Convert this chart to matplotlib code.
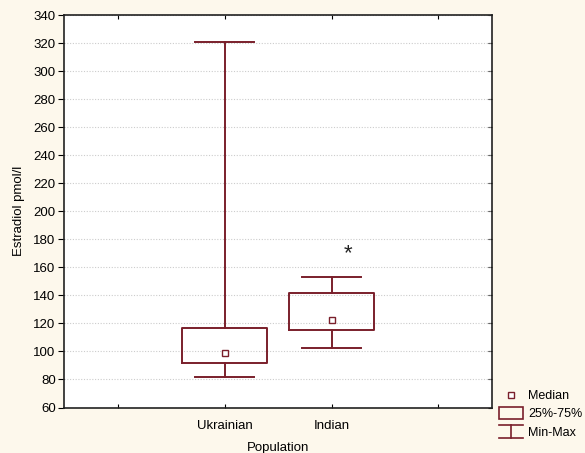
import matplotlib
matplotlib.use("Agg")
import matplotlib.pyplot as plt
from matplotlib.patches import Rectangle
from matplotlib.lines import Line2D
from matplotlib.legend_handler import HandlerBase

plt.rcParams['font.family'] = ['Liberation Sans', 'DejaVu Sans']

# ---- data ----
categories = ["Ukrainian", "Indian"]
medians = [99.0, 122.5]
q1 = [91.5, 115.5]
q3 = [116.5, 141.5]
mins = [81.5, 102.5]
maxs = [321.0, 153.0]
asterisk_value = 170.0
y_ticks = list(range(60, 341, 20))

BOX_COLOR = "#7a1f2b"
BG = "#fdf8ec"

fig = plt.figure(figsize=(5.85, 4.53), dpi=100, facecolor=BG)
ax = fig.add_axes([64 / 585, 1 - 407.5 / 453, 428 / 585, (407.5 - 15) / 453])
ax.set_facecolor("white")

positions = [1, 2]
stats = []
for i, c in enumerate(categories):
    stats.append(dict(label=c, med=medians[i], q1=q1[i], q3=q3[i],
                      whislo=mins[i], whishi=maxs[i], fliers=[]))

ax.bxp(stats, positions=positions, widths=0.8, capwidths=0.56,
       showfliers=False, patch_artist=False,
       boxprops=dict(color=BOX_COLOR, linewidth=1.4),
       whiskerprops=dict(color=BOX_COLOR, linewidth=1.4),
       capprops=dict(color=BOX_COLOR, linewidth=1.4),
       medianprops=dict(visible=False), zorder=3)
ax.plot(positions, medians, linestyle="none", marker="s", markersize=4.2,
        markerfacecolor="white", markeredgecolor=BOX_COLOR,
        markeredgewidth=1.0, zorder=4)

ax.text(2.15, asterisk_value, "*", ha="center", va="center", fontsize=16,
        color="#222222")

ax.set_xlim(-0.5, 3.5)
ax.set_ylim(60, 340)
ax.set_yticks(y_ticks)
ax.set_xticks([0, 1, 2, 3])
ax.set_xticklabels(["", categories[0], categories[1], ""])

ax.yaxis.grid(True, linestyle=(0, (1, 1.5)), color="#cccccc", linewidth=0.8)
ax.set_axisbelow(True)

ax.tick_params(axis="y", which="both", left=True, right=False, direction="out",
               length=4, labelsize=9.5, colors="black", pad=2)
ax.tick_params(axis="x", which="both", bottom=True, top=True, direction="in",
               length=3, labelsize=9.5, pad=9)
ax2 = ax.secondary_yaxis("right")
ax2.set_yticks(y_ticks)
ax2.tick_params(direction="in", length=3, labelright=False)
for sp in ax2.spines.values():
    sp.set_visible(False)

for sp in ax.spines.values():
    sp.set_linewidth(1.2)
    sp.set_color("#222222")

ax.set_ylabel("Estradiol pmol/l", fontsize=9.5, labelpad=6)
ax.set_xlabel("Population", fontsize=9.5, labelpad=7)


# ---- legend with custom handles ----
class MarkerHandler(HandlerBase):
    def create_artists(self, legend, orig_handle, xdescent, ydescent, width,
                       height, fontsize, trans):
        ln = Line2D([-xdescent + width / 2], [-ydescent + height / 2],
                    marker="s", markersize=4.2, markerfacecolor="white",
                    markeredgecolor=BOX_COLOR, markeredgewidth=1.0,
                    linestyle="none", transform=trans)
        return [ln]


class BoxHandler(HandlerBase):
    def create_artists(self, legend, orig_handle, xdescent, ydescent, width,
                       height, fontsize, trans):
        r = Rectangle((-xdescent, -ydescent - 1), width, height + 2,
                      facecolor="none", edgecolor=BOX_COLOR, linewidth=1.2,
                      transform=trans)
        return [r]


class WhiskerHandler(HandlerBase):
    def create_artists(self, legend, orig_handle, xdescent, ydescent, width,
                       height, fontsize, trans):
        x0 = -xdescent
        y0 = -ydescent - 2
        y1 = -ydescent + height + 1
        xm = x0 + width / 2
        kw = dict(color=BOX_COLOR, linewidth=1.2, transform=trans)
        return [Line2D([x0, x0 + width], [y1, y1], **kw),
                Line2D([xm, xm], [y0, y1], **kw),
                Line2D([x0, x0 + width], [y0, y0], **kw)]


h_med = object()
h_box = object()
h_wh = object()
fig.legend([h_med, h_box, h_wh], ["Median", "25%-75%", "Min-Max"],
           handler_map={h_med: MarkerHandler(), h_box: BoxHandler(),
                        h_wh: WhiskerHandler()},
           loc="upper left", bbox_to_anchor=(499 / 585, 1 - 390 / 453),
           frameon=False, fontsize=9, borderpad=0, borderaxespad=0,
           handlelength=1.9, handletextpad=0.45, labelspacing=0.5)

fig.savefig("out.png", dpi=100, facecolor=BG)
